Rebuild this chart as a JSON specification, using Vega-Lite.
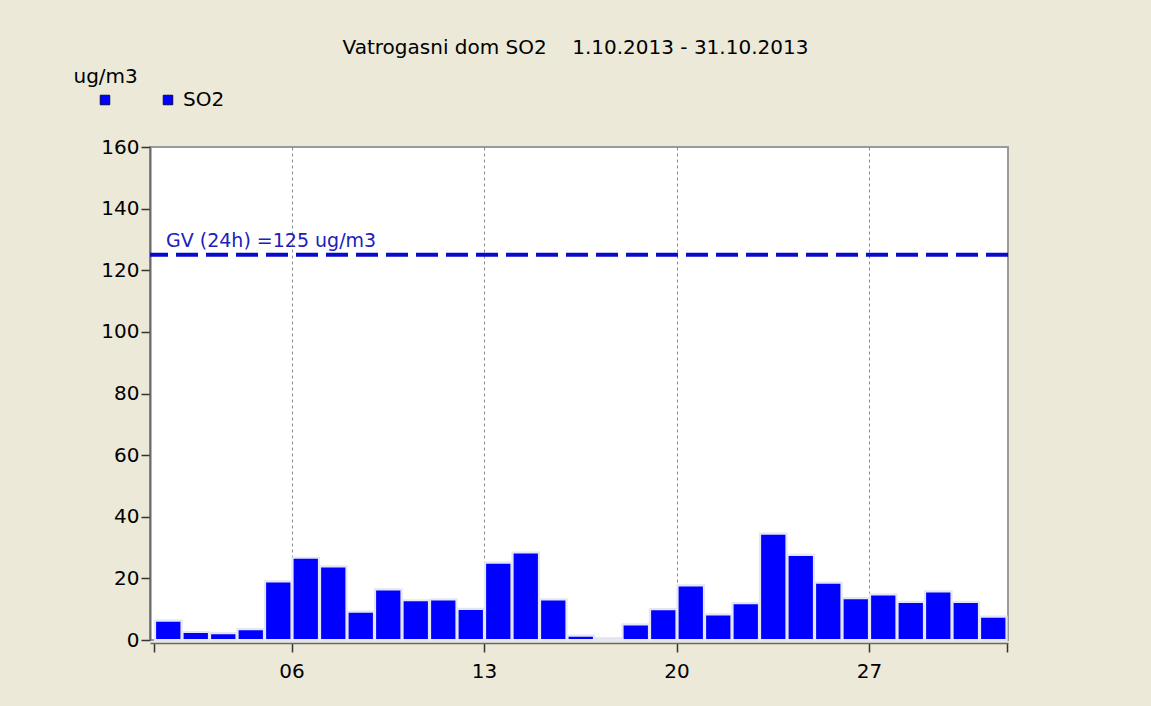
{
  "$schema": "https://vega.github.io/schema/vega-lite/v6.json",
  "autosize": "none",
  "width": 858,
  "height": 493,
  "padding": {"left": 150, "top": 147, "right": 143, "bottom": 66},
  "background": "#ECE9D8",
  "title": {
    "text": "Vatrogasni dom SO2\u00a0\u00a0\u00a0\u00a01.10.2013 - 31.10.2013",
    "anchor": "middle",
    "frame": "group",
    "dx": -3.5,
    "offset": 8,
    "font": "DejaVu Sans",
    "fontSize": 20,
    "fontWeight": "normal",
    "color": "#000000"
  },
  "config": {
    "view": {"fill": "#ffffff", "stroke": "#9a9a9a", "strokeWidth": 2},
    "axis": {"labelFont": "DejaVu Sans", "titleFont": "DejaVu Sans"}
  },
  "layer": [
    {
      "data": {
        "values": [
          {"date": "2013-10-01", "SO2": 6.3},
          {"date": "2013-10-02", "SO2": 2.6},
          {"date": "2013-10-03", "SO2": 2.2},
          {"date": "2013-10-04", "SO2": 3.5},
          {"date": "2013-10-05", "SO2": 19.0},
          {"date": "2013-10-06", "SO2": 26.7},
          {"date": "2013-10-07", "SO2": 23.9},
          {"date": "2013-10-08", "SO2": 9.2},
          {"date": "2013-10-09", "SO2": 16.4},
          {"date": "2013-10-10", "SO2": 12.9},
          {"date": "2013-10-11", "SO2": 13.2},
          {"date": "2013-10-12", "SO2": 10.1},
          {"date": "2013-10-13", "SO2": 25.1},
          {"date": "2013-10-14", "SO2": 28.4},
          {"date": "2013-10-15", "SO2": 13.2},
          {"date": "2013-10-16", "SO2": 1.4},
          {"date": "2013-10-17", "SO2": 0.6},
          {"date": "2013-10-18", "SO2": 5.1},
          {"date": "2013-10-19", "SO2": 10.0},
          {"date": "2013-10-20", "SO2": 17.7},
          {"date": "2013-10-21", "SO2": 8.3},
          {"date": "2013-10-22", "SO2": 12.0},
          {"date": "2013-10-23", "SO2": 34.5},
          {"date": "2013-10-24", "SO2": 27.6},
          {"date": "2013-10-25", "SO2": 18.6},
          {"date": "2013-10-26", "SO2": 13.6},
          {"date": "2013-10-27", "SO2": 14.8},
          {"date": "2013-10-28", "SO2": 12.4},
          {"date": "2013-10-29", "SO2": 15.8},
          {"date": "2013-10-30", "SO2": 12.4},
          {"date": "2013-10-31", "SO2": 7.6}
        ]
      },
      "mark": {"type": "bar", "stroke": "#e4e6f4", "strokeWidth": 2.2},
      "encoding": {
        "x": {
          "field": "date",
          "timeUnit": "utcyearmonthdate",
          "type": "temporal",
          "scale": {
            "type": "utc",
            "domain": [
              {"year": 2013, "month": 9, "date": 30, "hours": 20, "minutes": 30, "utc": true},
              {"year": 2013, "month": 11, "date": 1, "hours": 1, "minutes": 18, "utc": true}
            ]
          },
          "axis": {
            "title": null,
            "values": [
              {"year": 2013, "month": 10, "date": 1, "utc": true},
              {"year": 2013, "month": 10, "date": 6, "utc": true},
              {"year": 2013, "month": 10, "date": 13, "utc": true},
              {"year": 2013, "month": 10, "date": 20, "utc": true},
              {"year": 2013, "month": 10, "date": 27, "utc": true},
              {"year": 2013, "month": 11, "date": 1, "utc": true}
            ],
            "labelExpr": "utcdate(datum.value) == 1 ? '' : utcFormat(datum.value, '%d')",
            "labelFont": "DejaVu Sans",
            "labelFontSize": 20,
            "labelColor": "#000000",
            "labelPadding": 9,
            "labelFlush": false,
            "labelOverlap": false,
            "offset": 3,
            "domainColor": "#6a6a6a",
            "domainWidth": 1.5,
            "tickColor": "#333333",
            "tickSize": 9,
            "tickWidth": 1.5,
            "grid": true,
            "gridColor": "#8a8a8a",
            "gridDash": [3, 3],
            "gridWidth": 1,
            "gridOpacity": {"condition": {"test": "utcdate(datum.value) == 1", "value": 0}, "value": 1}
          }
        },
        "y": {
          "field": "SO2",
          "type": "quantitative",
          "scale": {"domain": [0, 160], "nice": false},
          "axis": {
            "title": "ug/m3",
            "titleAngle": 0,
            "titleAlign": "left",
            "titleBaseline": "alphabetic",
            "titleX": -77,
            "titleY": -65,
            "titleFont": "DejaVu Sans",
            "titleFontSize": 20,
            "titleFontWeight": "normal",
            "titleColor": "#000000",
            "values": [0, 20, 40, 60, 80, 100, 120, 140, 160],
            "labelFont": "DejaVu Sans",
            "labelFontSize": 20,
            "labelColor": "#000000",
            "labelPadding": 2,
            "domainColor": "#6a6a6a",
            "domainWidth": 2,
            "tickColor": "#333333",
            "tickSize": 9,
            "tickWidth": 1.5,
            "grid": false
          }
        },
        "color": {
          "datum": "SO2",
          "type": "nominal",
          "scale": {"domain": ["GV", "SO2"], "range": ["#0000ff", "#0000ff"]},
          "legend": {
            "orient": "none",
            "legendX": -55,
            "legendY": -57,
            "direction": "horizontal",
            "title": null,
            "padding": 0,
            "symbolType": "square",
            "symbolSize": 90,
            "symbolStrokeColor": "#00005a",
            "symbolStrokeWidth": 1,
            "labelFont": "DejaVu Sans",
            "labelFontSize": 20,
            "labelColor": "#000000",
            "labelOffset": 5,
            "columnPadding": 38,
            "labelExpr": "datum.label == 'GV' ? '' : datum.label"
          }
        }
      }
    },
    {
      "data": {"values": [{"limit": 125, "label": "GV (24h) =125 ug/m3"}]},
      "mark": {"type": "rule", "color": "#0a0acc", "strokeWidth": 4, "strokeDash": [22, 8]},
      "encoding": {
        "y": {"field": "limit", "type": "quantitative"}
      }
    },
    {
      "data": {"values": [{"limit": 125, "label": "GV (24h) =125 ug/m3"}]},
      "mark": {
        "type": "text",
        "align": "left",
        "baseline": "alphabetic",
        "dx": 12,
        "dy": -8,
        "font": "DejaVu Sans",
        "fontSize": 19,
        "color": "#2020bb"
      },
      "encoding": {
        "x": {"datum": {"year": 2013, "month": 10, "date": 1, "utc": true}, "type": "temporal"},
        "y": {"field": "limit", "type": "quantitative"},
        "text": {"field": "label"}
      }
    }
  ]
}
